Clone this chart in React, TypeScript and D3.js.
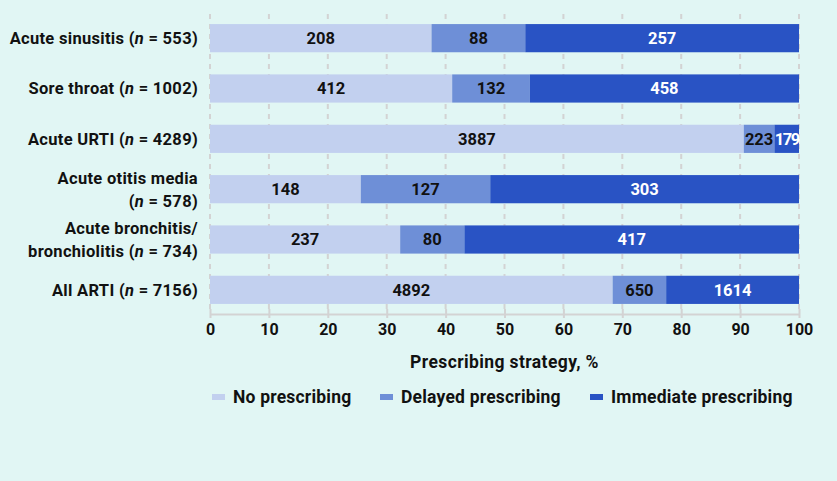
import React, { useEffect, useRef } from 'react';
import * as d3 from 'd3';

// categories, drawn top to bottom (label lines; the n part is added from totals)
const categories = [
  ['Acute sinusitis'],
  ['Sore throat'],
  ['Acute URTI'],
  ['Acute otitis media', ''],
  ['Acute bronchitis/', 'bronchiolitis'],
  ['All ARTI'],
];
const totals = [553, 1002, 4289, 578, 734, 7156];
const noPrescribing = [208, 412, 3887, 148, 237, 4892];
const delayedPrescribing = [88, 132, 223, 127, 80, 650];
const immediatePrescribing = [257, 458, 179, 303, 417, 1614];

const seriesNames = ['No prescribing', 'Delayed prescribing', 'Immediate prescribing'];
const seriesColors = ['#c2d0ef', '#6e8fd7', '#2953c4'];
const labelColors = ['#111', '#111', '#fff'];
const xTicks = [0, 10, 20, 30, 40, 50, 60, 70, 80, 90, 100];

const FONT = 'Roboto, "Noto Sans", sans-serif';

function App() {
  const svgRef = useRef<SVGSVGElement>(null);

  useEffect(() => {
    const width = 837;
    const height = 481;
    const margin = { top: 14, right: 38, bottom: 167, left: 210 };
    const innerWidth = width - margin.left - margin.right;
    const innerHeight = height - margin.top - margin.bottom;

    const svg = d3.select(svgRef.current)
      .attr('width', width)
      .attr('height', height);
    svg.selectAll('*').remove();

    svg.append('rect')
      .attr('width', width)
      .attr('height', height)
      .attr('fill', '#e1f6f4');

    const g = svg.append('g')
      .attr('transform', `translate(${margin.left},${margin.top})`);

    const x = d3.scaleLinear().domain([0, 100]).range([0, innerWidth]);
    const y = d3.scaleBand<number>()
      .domain(d3.range(categories.length))
      .range([0, innerHeight])
      .paddingInner(0.44)
      .paddingOuter(0.2);

    // dashed grid
    g.selectAll('.grid')
      .data(xTicks)
      .enter()
      .append('line')
      .attr('x1', d => x(d))
      .attr('x2', d => x(d))
      .attr('y1', 0)
      .attr('y2', innerHeight)
      .attr('stroke', '#d3d3d3')
      .attr('stroke-width', 2)
      .attr('stroke-dasharray', '5,5');

    // stacked data in percent
    const rows = totals.map((t, i) => {
      const vals = [noPrescribing[i], delayedPrescribing[i], immediatePrescribing[i]];
      const sum = d3.sum(vals);
      let acc = 0;
      return vals.map((v, k) => {
        const x0 = acc;
        acc += (v / sum) * 100;
        return { row: i, k, v, x0, x1: acc };
      });
    });

    rows.forEach(segs => {
      segs.forEach(s => {
        const w = x(s.x1) - x(s.x0);
        g.append('rect')
          .attr('x', x(s.x0))
          .attr('y', y(s.row)!)
          .attr('width', w)
          .attr('height', y.bandwidth())
          .attr('fill', seriesColors[s.k]);
        g.append('text')
          .attr('x', (x(s.x0) + x(s.x1)) / 2)
          .attr('y', y(s.row)! + y.bandwidth() / 2)
          .attr('dy', '0.36em')
          .attr('text-anchor', 'middle')
          .attr('fill', labelColors[s.k])
          .attr('font-family', FONT)
          .attr('font-weight', 700)
          .attr('font-size', 16.5)
          .attr('letter-spacing', w < 30 ? -1.5 : 0)
          .text(s.v);
      });
    });

    // x axis
    const axis = g.append('g')
      .attr('transform', `translate(0,${innerHeight})`)
      .call(d3.axisBottom(x).tickValues(xTicks).tickSize(4).tickSizeOuter(0).tickPadding(6));
    axis.select('.domain').attr('stroke', '#d3d3d3').attr('stroke-width', 2);
    axis.selectAll('.tick line')
      .attr('stroke', '#d3d3d3')
      .attr('stroke-width', 2)
      .attr('y1', -5);
    axis.selectAll('.tick text')
      .attr('fill', '#111')
      .attr('font-family', FONT)
      .attr('font-weight', 700)
      .attr('font-size', 16);

    g.append('text')
      .attr('x', innerWidth / 2)
      .attr('y', innerHeight + 54)
      .attr('text-anchor', 'middle')
      .attr('fill', '#111')
      .attr('font-family', FONT)
      .attr('font-weight', 700)
      .attr('font-size', 17.5)
      .attr('letter-spacing', 0.4)
      .text('Prescribing strategy, %');

    // category labels
    categories.forEach((lines, i) => {
      const cy = y(i)! + y.bandwidth() / 2;
      const t = g.append('text')
        .attr('text-anchor', 'end')
        .attr('fill', '#111')
        .attr('font-family', FONT)
        .attr('font-weight', 700)
        .attr('font-size', 16.5)
        .attr('letter-spacing', 0.3);
      const nPart = (sel: any, prefix: string) => {
        sel.append('tspan').text(prefix + '(');
        sel.append('tspan').attr('font-style', 'italic').text('n');
        sel.append('tspan').text(` = ${totals[i]})`);
      };
      if (lines.length === 1) {
        const line = t.append('tspan').attr('x', -12).attr('y', cy).attr('dy', '0.36em');
        nPart(line, lines[0] + ' ');
      } else {
        t.append('tspan')
          .attr('x', -12)
          .attr('y', cy - 11.5)
          .attr('dy', '0.36em')
          .text(lines[0]);
        const second = t.append('tspan')
          .attr('x', -12)
          .attr('y', cy + 11.5)
          .attr('dy', '0.36em');
        nPart(second, lines[1] ? lines[1] + ' ' : '');
      }
    });

    // legend
    const legendX = [2, 170, 380];
    const legend = g.append('g').attr('transform', `translate(0,${innerHeight + 83})`);
    seriesNames.forEach((name, k) => {
      legend.append('rect')
        .attr('x', legendX[k])
        .attr('y', -3)
        .attr('width', 13)
        .attr('height', 6)
        .attr('fill', seriesColors[k]);
      legend.append('text')
        .attr('x', legendX[k] + 21)
        .attr('y', 0)
        .attr('dy', '0.36em')
        .attr('fill', '#111')
        .attr('font-family', FONT)
        .attr('font-weight', 700)
        .attr('font-size', 17.5)
        .attr('letter-spacing', 0.2)
        .text(name);
    });
  }, []);

  return <svg ref={svgRef} style={{ display: 'block', position: 'absolute', left: 0, top: 0 }}></svg>;
}

export default App;
